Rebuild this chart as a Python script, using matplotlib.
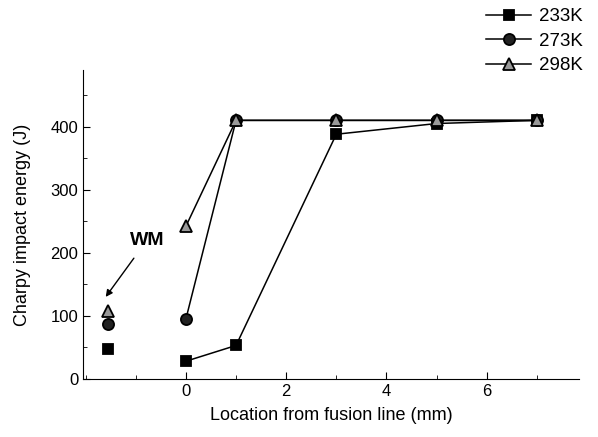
import numpy as np
import matplotlib
matplotlib.use('Agg')
from matplotlib import pyplot as plt
from matplotlib.ticker import MultipleLocator

plt.rcParams['font.family'] = ['Liberation Sans', 'DejaVu Sans']

# weld metal points (no connecting line)
wm_x = -1.55
wm_233 = 48
wm_273 = 87
wm_298 = 108

loc = [0, 1, 3, 5, 7]
e_233 = [28, 53, 388, 405, 410]
e_273 = [95, 410, 410, 410, 410]
e_298 = [242, 410, 410, 410, 410]

fig = plt.figure(figsize=(5.98, 4.37), dpi=100)
ax = fig.add_axes([0.139, 0.133, 0.83, 0.707])

series = [
    ('233K', wm_233, e_233, 's', 'black', 7),
    ('273K', wm_273, e_273, 'o', '#222222', 8),
    ('298K', wm_298, e_298, '^', '#999999', 9),
]
for label, wm, e, mk, fc, ms in series:
    ax.plot(loc, e, color='black', lw=1.1, marker=mk, ms=ms,
            markerfacecolor=fc, markeredgecolor='black', markeredgewidth=1.3,
            label=label)
    ax.plot([wm_x], [wm], ls='none', marker=mk, ms=ms,
            markerfacecolor=fc, markeredgecolor='black', markeredgewidth=1.3)

ax.annotate('WM', xy=(wm_x - 0.05, 130), xytext=(-1.12, 220),
            fontsize=14, fontweight='bold', ha='left', va='center',
            arrowprops=dict(arrowstyle='-|>', color='black', lw=1.0,
                            shrinkA=6, shrinkB=0, mutation_scale=10))

ax.set_xlim(-2.05, 7.85)
ax.set_ylim(0, 490)
ax.xaxis.set_major_locator(MultipleLocator(2))
ax.xaxis.set_minor_locator(MultipleLocator(1))
ax.yaxis.set_major_locator(MultipleLocator(100))
ax.yaxis.set_minor_locator(MultipleLocator(50))
ax.set_xticks([0, 2, 4, 6])
ax.tick_params(which='both', direction='in', labelsize=12)
ax.tick_params(which='major', length=5)
ax.tick_params(which='minor', length=3)
ax.spines['top'].set_visible(False)
ax.spines['right'].set_visible(False)

ax.set_xlabel('Location from fusion line (mm)', fontsize=13, labelpad=6)
ax.set_ylabel('Charpy impact energy (J)', fontsize=13, labelpad=14)

ax.legend(loc='upper right', bbox_to_anchor=(1.04, 1.255), frameon=False,
          fontsize=13.5, handlelength=2.4, labelspacing=0.4, handletextpad=0.4)

fig.savefig('out.png', dpi=100)
